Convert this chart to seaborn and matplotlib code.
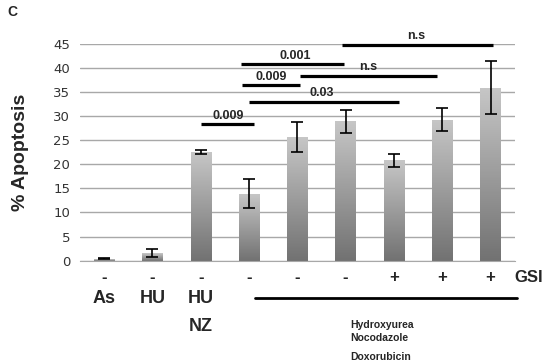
import numpy as np
import pandas as pd
import seaborn as sns
import matplotlib.pyplot as plt
from matplotlib.colors import LinearSegmentedColormap

# bar data
groups = ["g1", "g2", "g3", "g4", "g5", "g6", "g7", "g8", "g9"]
apoptosis = [0.4, 1.6, 22.6, 13.9, 25.6, 28.9, 20.8, 29.3, 35.9]
errors = [0.1, 0.8, 0.4, 3.0, 3.1, 2.3, 1.4, 2.3, 5.5]
gsi_signs = ["-", "-", "-", "-", "-", "-", "+", "+", "+"]
row_labels = ["As", "HU", "HU"]
drugs = ["Hydroxyurea", "Nocodazole", "Doxorubicin"]

# comparisons: (start, end, line height, label, label x)
comparisons = [
    (2.0, 3.1, 28.3, "0.009", 2.56),
    (3.0, 6.1, 33.0, "0.03", 4.5),
    (2.85, 4.05, 36.4, "0.009", 3.45),
    (4.05, 6.9, 38.4, "n.s", 5.46),
    (2.83, 4.97, 40.8, "0.001", 3.95),
    (4.92, 8.04, 44.8, "n.s", 6.47),
]
yticks = list(range(0, 50, 5))

df = pd.DataFrame({"group": groups, "value": apoptosis})

sns.set_style("white")
plt.rcParams["font.family"] = ["Liberation Sans", "DejaVu Sans"]

fig = plt.figure(figsize=(5.47, 3.63), dpi=100)
ax = fig.add_axes([0.146, 0.282, 0.795, 0.597])

sns.barplot(data=df, x="group", y="value", color="#999999", width=0.42, ax=ax, zorder=2)

# grey vertical gradient inside each bar
cmap = LinearSegmentedColormap.from_list("bargrey", ["#727272", "#c6c6c6"])
grad = np.linspace(0, 1, 100).reshape(-1, 1)
for p in ax.patches:
    x0, y0 = p.get_x(), p.get_y()
    w, h = p.get_width(), p.get_height()
    p.set_facecolor("none")
    p.set_edgecolor("none")
    im = ax.imshow(grad, extent=[x0, x0 + w, y0, y0 + h], origin="lower",
                   aspect="auto", cmap=cmap, zorder=2)
    im.set_clip_path(p)

ax.errorbar(range(len(groups)), apoptosis, yerr=errors, fmt="none",
            ecolor="black", elinewidth=1.2, capsize=4, capthick=1.2, zorder=4)

ax.set_xlim(-0.5, 8.5)
ax.set_ylim(0, 45)
ax.set_yticks(yticks)
ax.set_yticklabels([str(t) for t in yticks], fontsize=9.5, color="#333333",
                   family="DejaVu Sans")
ax.yaxis.grid(True, color="#a8a8a8", linewidth=1, zorder=0)
ax.set_axisbelow(True)
ax.tick_params(axis="y", length=4, color="#a8a8a8", width=1, pad=3)
ax.set_xticks(range(len(groups)))
ax.set_xticklabels([""] * len(groups))
ax.set_xticks(np.arange(-0.5, 9, 1), minor=True)
ax.tick_params(axis="x", which="major", length=0)
ax.tick_params(axis="x", which="minor", length=4, color="#a8a8a8", width=1)
ax.set_xlabel("")
ax.set_ylabel("")
for side in ["left", "top", "right"]:
    ax.spines[side].set_visible(False)
ax.spines["bottom"].set_color("#a8a8a8")

# significance lines
for x0, x1, yl, lab, lx in comparisons:
    ax.plot([x0, x1], [yl, yl], color="black", lw=2.3, clip_on=False, zorder=5,
            solid_capstyle="butt")
    ax.text(lx, yl + 0.5, lab, ha="center", va="bottom", fontsize=9,
            fontweight="bold", clip_on=False)

# treatment rows under the axis
tr = ax.get_xaxis_transform()
for i, s in enumerate(gsi_signs):
    ax.text(i, -0.08, s, transform=tr, ha="center", va="center", fontsize=12,
            fontweight="bold")
ax.text(8.78, -0.08, "GSI", transform=tr, ha="center", va="center", fontsize=12,
        fontweight="bold")
for i, s in enumerate(row_labels):
    ax.text(i, -0.177, s, transform=tr, ha="center", va="center", fontsize=13,
            fontweight="bold")
ax.text(2, -0.306, "NZ", transform=tr, ha="center", va="center", fontsize=13,
        fontweight="bold")
ax.plot([3.12, 8.55], [-0.171, -0.171], transform=tr, color="black", lw=2,
        clip_on=False)
for k, drug in enumerate(drugs):
    ax.text(5.09, [-0.297, -0.357, -0.444][k], drug, transform=tr, ha="left",
            va="center", fontsize=7.5, fontweight="bold")

fig.text(0.037, 0.581, "% Apoptosis", rotation=90, ha="center", va="center",
         fontsize=14, fontweight="bold")
fig.text(0.022, 0.967, "C", ha="center", va="center", fontsize=10,
         fontweight="bold")

fig.savefig("out.png", dpi=100)
